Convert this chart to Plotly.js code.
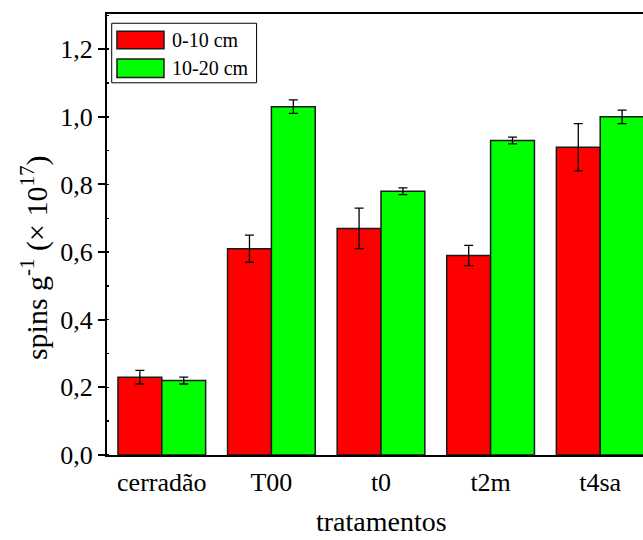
<!DOCTYPE html>
<html>
<head>
<meta charset="utf-8">
<script src="https://cdn.plot.ly/plotly-3.0.1.min.js"></script>
<style>
html,body{margin:0;padding:0;overflow:hidden;background:#fff;}
#chart{width:680px;height:540px;}
</style>
</head>
<body>
<div id="chart"></div>
<script>
const categories = ['cerradão', 'T00', 't0', 't2m', 't4sa'];
const seriesNames = ['0-10 cm', '10-20 cm'];
const values0_10 = [0.23, 0.61, 0.67, 0.59, 0.91];
const errors0_10 = [0.02, 0.04, 0.06, 0.03, 0.07];
const values10_20 = [0.22, 1.03, 0.78, 0.93, 1.00];
const errors10_20 = [0.01, 0.02, 0.01, 0.01, 0.02];
const yTickVals = [0, 0.2, 0.4, 0.6, 0.8, 1.0, 1.2];
const yTickText = ['0,0', '0,2', '0,4', '0,6', '0,8', '1,0', '1,2'];
const xTitle = 'tratamentos';
const yTitle = 'spins g<sup>-1</sup> (× 10<sup>17</sup>)';
const colors = ['#ff0000', '#00ff00'];

const FONT = 'Liberation Serif';

function barTrace(name, y, err, color) {
  return {
    type: 'bar', name: name, x: categories, y: y,
    marker: {color: color, line: {color: '#1a1a1a', width: 1.5}},
    error_y: {type: 'data', array: err, visible: true, color: '#000', thickness: 1.3, width: 4.5},
    showlegend: false
  };
}

const data = [
  barTrace(seriesNames[0], values0_10, errors0_10, colors[0]),
  barTrace(seriesNames[1], values10_20, errors10_20, colors[1])
];

const layout = {
  width: 680, height: 540,
  margin: {l: 107, r: 25, t: 14, b: 85},
  paper_bgcolor: '#fff', plot_bgcolor: '#fff',
  font: {family: FONT, color: '#000', size: 26},
  barmode: 'group', bargap: 0.2, bargroupgap: 0,
  xaxis: {
    type: 'category', range: [-0.5, 4.5],
    showline: true, linecolor: '#000', linewidth: 2, mirror: true,
    ticks: 'outside', ticklen: 3, tickwidth: 2, tickcolor: 'rgba(0,0,0,0)',
    showgrid: false, zeroline: false,
    tickfont: {family: FONT, size: 26, color: '#000'}
  },
  xaxis2: {
    overlaying: 'x', anchor: 'y', side: 'bottom', type: 'linear', range: [-0.5, 4.5],
    tickmode: 'array', tickvals: categories.map((c, i) => i),
    ticks: 'outside', ticklen: 8, tickwidth: 2, tickcolor: '#000',
    showticklabels: false, showline: false, showgrid: false, zeroline: false
  },
  yaxis: {
    range: [0, 1.304],
    tickmode: 'array', tickvals: yTickVals, ticktext: yTickText,
    showline: true, linecolor: '#000', linewidth: 2, mirror: true,
    ticks: 'outside', ticklen: 7, tickwidth: 2, tickcolor: '#000',
    minor: {dtick: 0.1, tick0: 0, ticks: 'inside', ticklen: 2, tickwidth: 1.5, tickcolor: '#000'},
    showgrid: false, zeroline: false,
    tickfont: {family: FONT, size: 26, color: '#000'}
  },
  shapes: [
    {type: 'rect', xref: 'paper', yref: 'paper', x0: 0.0086, x1: 0.273, y0: 0.844, y1: 0.979,
     line: {color: '#000', width: 1}, fillcolor: '#fff'},
    {type: 'rect', xref: 'paper', yref: 'paper', x0: 0.0182, x1: 0.104, y0: 0.921, y1: 0.961,
     line: {color: '#1a1a1a', width: 1.5}, fillcolor: colors[0]},
    {type: 'rect', xref: 'paper', yref: 'paper', x0: 0.0182, x1: 0.104, y0: 0.856, y1: 0.898,
     line: {color: '#1a1a1a', width: 1.5}, fillcolor: colors[1]}
  ],
  annotations: [
    {xref: 'paper', yref: 'paper', x: 0.115, y: 0.941, xanchor: 'left', yanchor: 'middle',
     text: seriesNames[0], showarrow: false, font: {family: FONT, size: 20, color: '#000'}},
    {xref: 'paper', yref: 'paper', x: 0.115, y: 0.877, xanchor: 'left', yanchor: 'middle',
     text: seriesNames[1], showarrow: false, font: {family: FONT, size: 20, color: '#000'}},
    {xref: 'paper', yref: 'paper', x: -0.131, y: 0.447, xanchor: 'center', yanchor: 'middle',
     textangle: -90, text: yTitle, showarrow: false, font: {family: FONT, size: 30, color: '#000'}},
    {xref: 'paper', yref: 'paper', x: 0.5, y: -0.1915, xanchor: 'center', yanchor: 'bottom',
     text: xTitle, showarrow: false, font: {family: FONT, size: 28, color: '#000'}}
  ]
};

Plotly.newPlot('chart', data, layout, {displayModeBar: false, staticPlot: true});
</script>
</body>
</html>
